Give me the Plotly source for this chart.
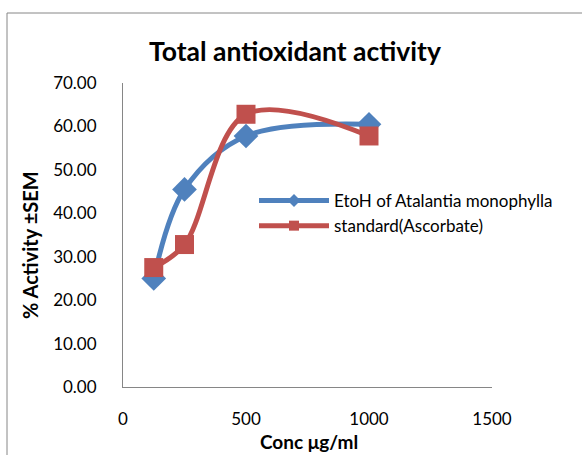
import plotly.graph_objects as go

conc = [125, 250, 500, 1000]
etoh = [25.0, 45.5, 57.8, 60.5]
standard = [27.5, 32.8, 62.8, 57.8]
x_ticks = [0, 500, 1000, 1500]
y_ticks = [0, 10, 20, 30, 40, 50, 60, 70]
names = ["EtoH of Atalantia monophylla", "standard(Ascorbate)"]

FONT = "Lato"
BLUE, RED = "#4F81BD", "#C0504D"
L, R, T, B = 123, 90, 83, 68
PW = 582 - L - R
PH = 455 - T - B

def px_x(p):
    return (p - L) / PW

def px_y(p):
    return (455 - B - p) / PH

fig = go.Figure()
for ys, nm, col, sym in [(etoh, names[0], BLUE, "diamond"), (standard, names[1], RED, "square")]:
    fig.add_trace(go.Scatter(
        x=conc, y=ys, name=nm, showlegend=False,
        mode="lines+markers", line=dict(color=col, width=5, shape="spline", smoothing=1),
        marker=dict(symbol=sym, size=19, color=col),
    ))
for nm, col, sym in [(names[0], BLUE, "diamond"), (names[1], RED, "square")]:
    fig.add_trace(go.Scatter(
        x=[None], y=[None], name=nm, mode="lines+markers",
        line=dict(color=col, width=5), marker=dict(symbol=sym, size=10, color=col),
    ))

fig.update_layout(
    width=582, height=455,
    margin=dict(l=L, r=R, t=T, b=B),
    paper_bgcolor="white", plot_bgcolor="white",
    font=dict(family=FONT, size=17, color="black"),
    title=dict(text="<b>Total antioxidant activity</b>", x=295 / 582, xanchor="center",
               y=1 - 52 / 455, yanchor="middle", font=dict(family=FONT, size=26.5, color="black")),
    showlegend=True,
    legend=dict(x=px_x(254), y=px_y(183), xanchor="left", yanchor="top",
                font=dict(family=FONT, size=17, color="black"),
                bgcolor="rgba(0,0,0,0)", tracegroupgap=0, itemwidth=70),
    xaxis=dict(range=[0, 1500], tickvals=x_ticks, ticktext=[str(v) for v in x_ticks],
               showgrid=False, zeroline=False, showline=True, linecolor="#868686", linewidth=1,
               ticks="", ticklabelstandoff=17, tickfont=dict(family=FONT, size=17)),
    yaxis=dict(range=[0, 70], tickvals=y_ticks, ticktext=[f"{v:.2f}" for v in y_ticks],
               showgrid=False, zeroline=False, showline=True, linecolor="#868686", linewidth=1,
               ticks="", ticklabelstandoff=22, tickfont=dict(family=FONT, size=17)),
    annotations=[
        dict(text="<b>% Activity ±SEM</b>", textangle=-90, xref="paper", yref="paper",
             x=px_x(30), y=px_y(245), xanchor="center", yanchor="middle", showarrow=False,
             font=dict(family=FONT, size=20, color="black")),
        dict(text="<b>Conc μg/ml</b>", xref="paper", yref="paper",
             x=px_x(309), y=px_y(441), xanchor="center", yanchor="middle", showarrow=False,
             font=dict(family=FONT, size=19, color="black")),
    ],
    shapes=[
        dict(type="rect", xref="paper", yref="paper",
             x0=px_x(7), x1=px_x(600), y0=px_y(480), y1=px_y(13),
             line=dict(color="#868686", width=1), fillcolor="rgba(0,0,0,0)", layer="below"),
    ],
)

fig.write_html("out.html", config={"displayModeBar": False},
               post_script="document.body.style.margin='0';")
